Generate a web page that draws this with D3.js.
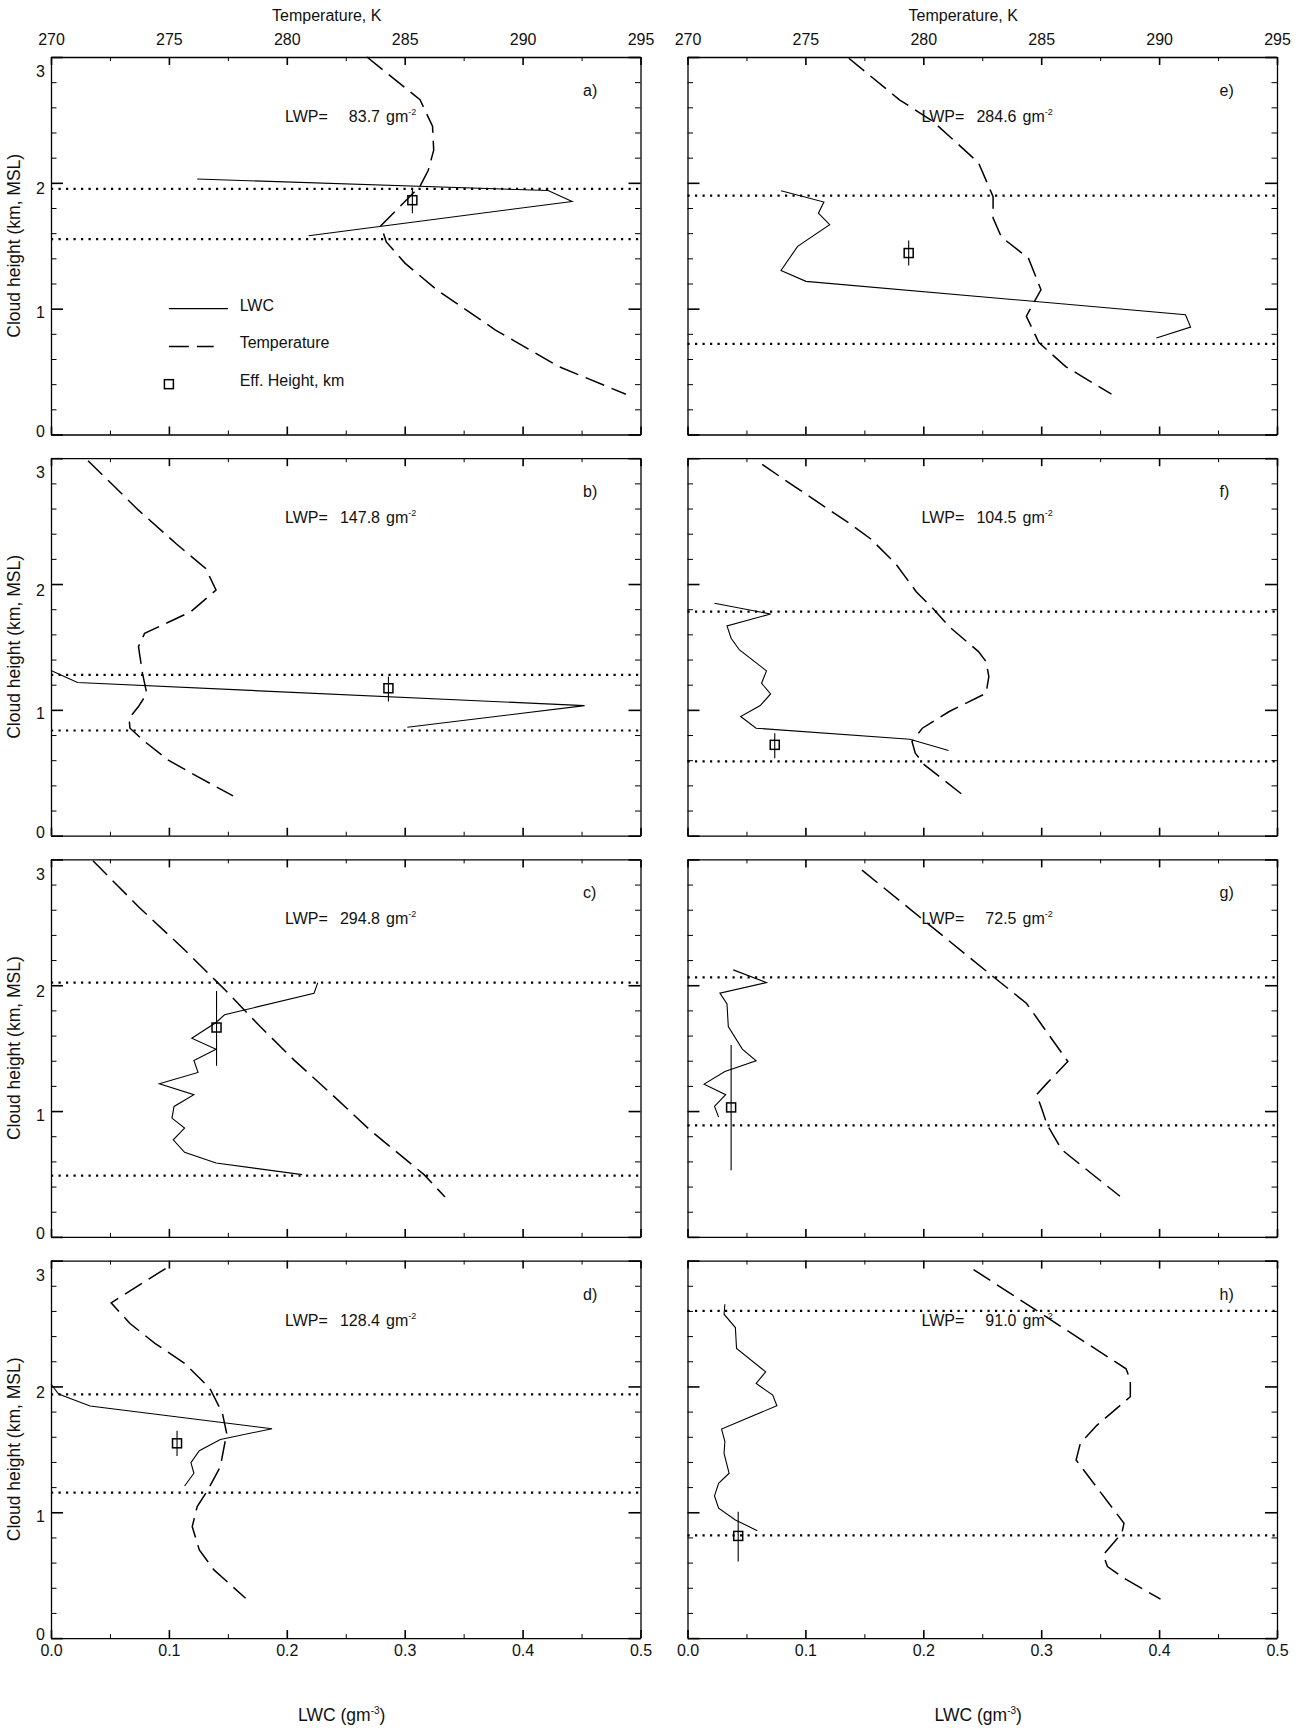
<!DOCTYPE html>
<html>
<head>
<meta charset="utf-8">
<script src="https://cdn.jsdelivr.net/npm/d3@7"></script>
<style>
  body { margin: 0; background: #fff; }
  svg text { font-family: "Liberation Sans", Arial, sans-serif; fill: #111; }
</style>
</head>
<body>
<svg id="chart" width="1302" height="1728"></svg>
<script>
// ---- Panel identifiers and liquid water path values ----
const panelLabels = ["a)", "b)", "c)", "d)", "e)", "f)", "g)", "h)"];
const lwpValues   = [83.7, 147.8, 294.8, 128.4, 284.6, 104.5, 72.5, 91.0];

// ---- Temperature profiles: [temperature K, height km] ----
const tempA = [[283.4,3.0],[285.65,2.66],[286.18,2.45],[286.23,2.26],[286.0,2.10],[285.64,1.97],[283.99,1.66],[284.22,1.53],[285.02,1.36],[286.36,1.15],[288.85,0.83],[291.53,0.54],[294.38,0.32]];
const tempB = [[271.57,2.98],[273.71,2.587],[275.31,2.32],[276.56,2.124],[277.0,1.952],[275.93,1.78],[273.97,1.608],[273.71,1.503],[273.88,1.29],[274.06,1.13],[273.71,1.026],[273.31,0.934],[273.35,0.854],[273.97,0.749],[274.95,0.603],[276.2,0.471],[277.72,0.317]];
const tempC = [[271.78,2.989],[273.71,2.624],[275.67,2.28],[277.45,1.95],[278.87,1.672],[280.30,1.407],[282.08,1.103],[283.51,0.852],[285.82,0.495],[286.71,0.317]];
const tempD = [[274.86,2.937],[272.55,2.664],[273.35,2.5],[274.42,2.341],[275.67,2.183],[276.74,1.984],[277.27,1.786],[277.45,1.627],[277.18,1.362],[276.65,1.177],[276.2,1.045],[275.99,0.886],[276.29,0.701],[276.91,0.542],[278.25,0.317]];
const tempE = [[276.84,2.99],[278.99,2.66],[280.40,2.49],[282.34,2.16],[282.96,1.89],[282.96,1.72],[283.31,1.57],[284.46,1.40],[284.99,1.15],[284.63,1.03],[284.37,0.94],[284.9,0.73],[286.04,0.54],[287.98,0.32]];
const tempF = [[273.17,2.95],[274.58,2.77],[276.88,2.48],[277.76,2.36],[278.82,2.164],[279.70,1.939],[280.4,1.807],[281.1,1.661],[282.34,1.463],[282.66,1.384],[282.78,1.265],[282.66,1.132],[281.1,0.987],[279.96,0.854],[279.52,0.749],[279.66,0.656],[280.05,0.563],[281.72,0.317]];
const tempG = [[277.4,2.915],[282.87,2.082],[284.37,1.857],[286.13,1.394],[285.25,1.222],[284.8,1.13],[284.99,1.037],[285.25,0.892],[285.87,0.693],[288.34,0.323]];
const tempH = [[282.13,2.929],[288.6,2.14],[288.78,2.05],[288.78,1.918],[287.37,1.693],[286.66,1.548],[286.48,1.415],[288.51,0.913],[288.42,0.833],[287.63,0.661],[287.81,0.569],[288.51,0.476],[290.06,0.31]];

// ---- Liquid water content profiles: [LWC g/m3, height km] ----
const lwcA = [[0.124,2.03],[0.4216,1.939],[0.442,1.852],[0.2185,1.579]];
const lwcB = [[0,1.312],[0.0225,1.217],[0.4526,1.034],[0.3022,0.862]];
const lwcC = [[0.2263,2.021],[0.2231,1.937],[0.1472,1.765],[0.14,1.704],[0.1194,1.579],[0.14,1.492],[0.1212,1.402],[0.1247,1.307],[0.0919,1.217],[0.1212,1.13],[0.1044,1.037],[0.1026,0.944],[0.1133,0.865],[0.1037,0.772],[0.1133,0.672],[0.14,0.587],[0.2131,0.495]];
const lwcD = [[0,2.019],[0.0064,1.939],[0.0331,1.844],[0.1875,1.664],[0.1436,1.579],[0.1258,1.489],[0.1187,1.394],[0.1212,1.31],[0.1133,1.209]];
const lwcE = [[0.0793,1.937],[0.1157,1.847],[0.111,1.759],[0.1206,1.667],[0.0934,1.495],[0.0793,1.304],[0.1005,1.217],[0.4224,0.952],[0.4267,0.854],[0.3977,0.767]];
const lwcF = [[0.0229,1.847],[0.0705,1.762],[0.0335,1.667],[0.037,1.569],[0.0441,1.476],[0.067,1.31],[0.0628,1.212],[0.0705,1.127],[0.0617,1.034],[0.0451,0.947],[0.0582,0.854],[0.1886,0.767],[0.2214,0.677]];
const lwcG = [[0.0388,2.122],[0.067,2.021],[0.0275,1.937],[0.0335,1.852],[0.0346,1.672],[0.0465,1.492],[0.0582,1.399],[0.0317,1.315],[0.0141,1.214],[0.0324,1.13],[0.0229,1.037],[0.0264,0.952]];
const lwcH = [[0.0317,2.653],[0.031,2.574],[0.0406,2.468],[0.0416,2.302],[0.0663,2.116],[0.0582,2.024],[0.0723,1.931],[0.0758,1.847],[0.0289,1.661],[0.0317,1.561],[0.031,1.468],[0.0353,1.31],[0.0264,1.23],[0.0229,1.13],[0.0264,1.032],[0.0406,0.939],[0.0592,0.854]];

// ---- Effective height markers: [LWC, height, lower, upper] ----
const effHeights = [
  [0.3065, 1.862, 1.759, 1.958],
  [0.2862, 1.172, 1.066, 1.265],
  [0.1404, 1.664, 1.360, 1.955],
  [0.1069, 1.548, 1.447, 1.648],
  [0.1876, 1.442, 1.344, 1.542],
  [0.0740, 0.722, 0.616, 0.815],
  [0.0370, 1.029, 0.529, 1.526],
  [0.0430, 0.812, 0.608, 1.005]
];

// ---- Cloud top / cloud base heights (km) ----
const cloudTops  = [1.952, 1.278, 2.021, 1.937, 1.899, 1.780, 2.063, 2.600];
const cloudBases = [1.553, 0.836, 0.487, 1.156, 0.720, 0.590, 0.886, 0.817];

// ---- Axis ticks ----
const tempMajor = [270, 275, 280, 285, 290, 295];
const tempMinor = [272.5, 277.5, 282.5, 287.5, 292.5];
const lwcMajor  = [0.0, 0.1, 0.2, 0.3, 0.4, 0.5];
const lwcMinor  = [0.05, 0.15, 0.25, 0.35, 0.45];
const hMajor    = [0, 1, 2, 3];
const hMinor    = [0.2, 0.4, 0.6, 0.8, 1.2, 1.4, 1.6, 1.8, 2.2, 2.4, 2.6, 2.8];

const tempProfiles = [tempA, tempB, tempC, tempD, tempE, tempF, tempG, tempH];
const lwcProfiles  = [lwcA, lwcB, lwcC, lwcD, lwcE, lwcF, lwcG, lwcH];

// ---- Layout ----
const colX = [51, 687.5], panelW = 589.5;
const rowY = [57, 458.2, 859.4, 1260.6], panelH = 377.5;
const fontSize = 16;
// IDL-style vertical placement of the height labels
const hLabelShift = {0: -3.5, 1: 4, 2: 6, 3: 14.5};

const svg = d3.select("#chart");
svg.append("rect").attr("width", 1302).attr("height", 1728).attr("fill", "#fff");

function styleAxis(a, keepDomain) {
  a.attr("font-family", null).attr("font-size", null);
  a.selectAll("text").attr("font-size", fontSize);
  a.selectAll(".tick line").attr("stroke", "#000");
  if (keepDomain) a.select(".domain").attr("stroke", "#000").attr("stroke-width", 1.3);
  else a.select(".domain").remove();
  return a;
}

for (let i = 0; i < 8; i++) {
  const col = Math.floor(i / 4), row = i % 4;
  const g = svg.append("g").attr("transform", `translate(${colX[col]},${rowY[row]})`);

  const xT = d3.scaleLinear().domain([270, 295]).range([0, panelW]);
  const xL = d3.scaleLinear().domain([0, 0.5]).range([0, panelW]);
  const y  = d3.scaleLinear().domain([0, 3]).range([panelH, 0]);

  // top axis: temperature
  styleAxis(g.append("g").call(d3.axisTop(xT).tickValues(tempMinor).tickSizeInner(-4).tickSizeOuter(0).tickFormat("")), false);
  const topAx = styleAxis(g.append("g").call(d3.axisTop(xT).tickValues(tempMajor).tickSizeInner(-8).tickSizeOuter(0)
      .tickPadding(12).tickFormat(row === 0 ? d3.format("d") : "")), true);
  topAx.selectAll(".tick line").attr("stroke-width", 1.6);

  // bottom axis: LWC
  styleAxis(g.append("g").attr("transform", `translate(0,${panelH})`)
      .call(d3.axisBottom(xL).tickValues(lwcMinor).tickSizeInner(-4).tickSizeOuter(0).tickFormat("")), false);
  const botAx = styleAxis(g.append("g").attr("transform", `translate(0,${panelH})`)
      .call(d3.axisBottom(xL).tickValues(lwcMajor).tickSizeInner(-8).tickSizeOuter(0)
      .tickPadding(7).tickFormat(row === 3 ? d3.format(".1f") : "")), true);
  botAx.selectAll(".tick line").attr("stroke-width", 1.6);

  // left axis: height
  styleAxis(g.append("g").call(d3.axisLeft(y).tickValues(hMinor).tickSizeInner(-5.5).tickSizeOuter(0).tickFormat("")), false);
  const leftAx = styleAxis(g.append("g").call(d3.axisLeft(y).tickValues(hMajor).tickSizeInner(-12).tickSizeOuter(0)
      .tickPadding(6).tickFormat(col === 0 ? d3.format("d") : "")), true);
  leftAx.selectAll(".tick line").attr("stroke-width", 1.6);
  leftAx.selectAll(".tick text").attr("y", d => hLabelShift[d]);

  // right axis: height
  styleAxis(g.append("g").attr("transform", `translate(${panelW},0)`)
      .call(d3.axisRight(y).tickValues(hMinor).tickSizeInner(-5.5).tickSizeOuter(0).tickFormat("")), false);
  const rightAx = styleAxis(g.append("g").attr("transform", `translate(${panelW},0)`)
      .call(d3.axisRight(y).tickValues(hMajor).tickSizeInner(-12).tickSizeOuter(0).tickFormat("")), true);
  rightAx.selectAll(".tick line").attr("stroke-width", 1.6);

  // cloud top and base (dotted)
  g.selectAll(".cloudline").data([cloudTops[i], cloudBases[i]]).enter().append("line")
    .attr("x1", 0).attr("x2", panelW)
    .attr("y1", d => y(d)).attr("y2", d => y(d))
    .attr("stroke", "#000").attr("stroke-width", 2.2).attr("stroke-dasharray", "2.2,5.3");

  // temperature profile (dashed)
  g.append("path").datum(tempProfiles[i])
    .attr("d", d3.line().x(d => xT(d[0])).y(d => y(d[1])))
    .attr("fill", "none").attr("stroke", "#000").attr("stroke-width", 1.5)
    .attr("stroke-dasharray", "20,8");

  // LWC profile (solid)
  g.append("path").datum(lwcProfiles[i])
    .attr("d", d3.line().x(d => xL(d[0])).y(d => y(d[1])))
    .attr("fill", "none").attr("stroke", "#000").attr("stroke-width", 1.1);

  // effective height with range bar
  const e = effHeights[i];
  g.append("line").attr("x1", xL(e[0])).attr("x2", xL(e[0]))
    .attr("y1", y(e[2])).attr("y2", y(e[3]))
    .attr("stroke", "#000").attr("stroke-width", 1.1);
  g.append("rect").attr("x", xL(e[0]) - 4.5).attr("y", y(e[1]) - 4.5)
    .attr("width", 9).attr("height", 9)
    .attr("fill", "none").attr("stroke", "#000").attr("stroke-width", 1.5);

  // panel label and LWP annotation
  g.append("text").attr("x", 532).attr("y", 39).attr("font-size", fontSize).text(panelLabels[i]);
  g.append("text").attr("x", 234).attr("y", 65).attr("font-size", fontSize).text("LWP=");
  g.append("text").attr("x", 329).attr("y", 65).attr("font-size", fontSize)
    .attr("text-anchor", "end").text(d3.format(".1f")(lwpValues[i]));
  const unit = g.append("text").attr("x", 335).attr("y", 65).attr("font-size", fontSize);
  unit.append("tspan").text("gm");
  unit.append("tspan").attr("dy", -7).attr("font-size", 9).text("-2");

  // y-axis title
  if (col === 0) {
    svg.append("text")
      .attr("transform", `translate(20,${rowY[row] + panelH / 2}) rotate(-90)`)
      .attr("text-anchor", "middle").attr("font-size", 17.5)
      .text("Cloud height (km, MSL)");
  }

  // legend (panel a), placed in data coordinates
  if (i === 0) {
    g.append("line").attr("x1", xT(275)).attr("x2", xT(277.5)).attr("y1", y(1.0)).attr("y2", y(1.0))
      .attr("stroke", "#000").attr("stroke-width", 1.1);
    g.append("line").attr("x1", xT(275)).attr("x2", xT(276.9)).attr("y1", y(0.7)).attr("y2", y(0.7))
      .attr("stroke", "#000").attr("stroke-width", 1.5).attr("stroke-dasharray", "20,8");
    g.append("rect").attr("x", xT(275) - 4.5).attr("y", y(0.4) - 4.5).attr("width", 9).attr("height", 9)
      .attr("fill", "none").attr("stroke", "#000").attr("stroke-width", 1.5);
    const legendText = [["LWC", 1.0], ["Temperature", 0.7], ["Eff. Height, km", 0.4]];
    legendText.forEach(([t, h]) => {
      g.append("text").attr("x", xT(278)).attr("y", y(h) + 2).attr("font-size", fontSize).text(t);
    });
  }
}

// column titles
colX.forEach(x0 => {
  svg.append("text").attr("x", x0 + panelW / 2 - 19).attr("y", 20.5)
    .attr("text-anchor", "middle").attr("font-size", fontSize).text("Temperature, K");
  const t = svg.append("text").attr("x", x0 + panelW / 2 - 4).attr("y", 1721)
    .attr("text-anchor", "middle").attr("font-size", 17.5);
  t.append("tspan").text("LWC (gm");
  t.append("tspan").attr("dy", -7).attr("font-size", 10).text("-3");
  t.append("tspan").attr("dy", 7).text(")");
});
</script>
</body>
</html>
